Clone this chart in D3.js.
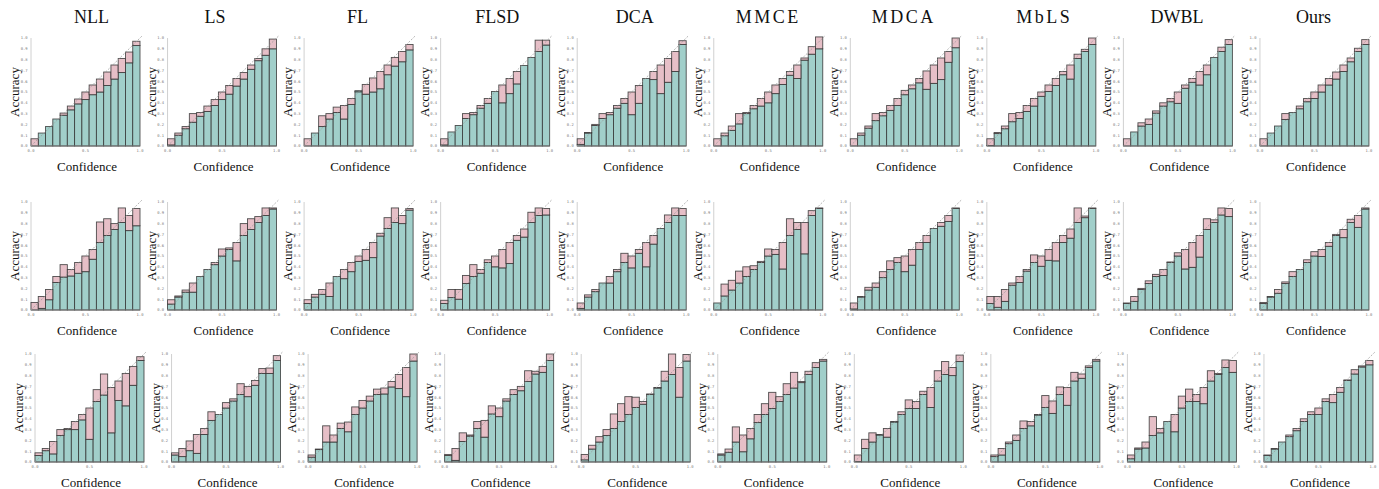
<!DOCTYPE html>
<html><head><meta charset="utf-8">
<script src="https://cdn.jsdelivr.net/npm/d3@7"></script>
<style>body{margin:0;background:#fff}</style>
</head><body><svg id="c" width="1379" height="489"></svg>
<script>
const methods = ["NLL","LS","FL","FLSD","DCA","MMCE","MDCA","MbLS","DWBL","Ours"];
const spacedTitles = ["MMCE","MDCA","MbLS"];
const xTicks = [0, 0.5, 1.0];
const yTicks = [0,0.1,0.2,0.3,0.4,0.5,0.6,0.7,0.8,0.9,1.0];
const nBins = 15;

// Row 1: accuracy (teal) and confidence (pink top) per bin
const accR1 = [
 [0,0.12,0.18,0.25,0.285,0.335,0.39,0.43,0.475,0.50,0.56,0.62,0.68,0.77,0.93],
 [0.01,0.10,0.16,0.22,0.275,0.32,0.375,0.43,0.48,0.555,0.62,0.71,0.79,0.84,0.90],
 [0,0.12,0.18,0.25,0.31,0.25,0.385,0.51,0.48,0.50,0.53,0.66,0.74,0.78,0.89],
 [0.01,0.13,0.19,0.255,0.29,0.35,0.395,0.505,0.40,0.485,0.575,0.745,0.82,0.875,0.935],
 [0.015,0.12,0.19,0.255,0.29,0.35,0.395,0.29,0.395,0.625,0.615,0.485,0.59,0.69,0.94],
 [0,0.095,0.145,0.205,0.30,0.345,0.37,0.40,0.485,0.57,0.655,0.625,0.795,0.85,0.90],
 [0,0.10,0.165,0.235,0.28,0.33,0.375,0.475,0.53,0.585,0.525,0.58,0.615,0.775,0.91],
 [0.005,0.115,0.16,0.225,0.255,0.32,0.37,0.46,0.505,0.56,0.66,0.62,0.81,0.875,0.94],
 [0,0.13,0.185,0.20,0.305,0.37,0.41,0.395,0.535,0.59,0.565,0.66,0.82,0.875,0.94],
 [0,0.12,0.185,0.245,0.31,0.345,0.41,0.44,0.50,0.565,0.62,0.69,0.78,0.875,0.94]
];
const confR1 = [
 [0.067,0.12,0.18,0.25,0.305,0.37,0.435,0.50,0.565,0.62,0.685,0.75,0.81,0.87,0.97],
 [0.067,0.12,0.18,0.30,0.31,0.37,0.43,0.50,0.56,0.625,0.68,0.75,0.81,0.90,0.99],
 [0.067,0.12,0.28,0.30,0.36,0.375,0.44,0.50,0.57,0.63,0.69,0.75,0.82,0.875,0.94],
 [0.067,0.13,0.19,0.30,0.31,0.375,0.44,0.505,0.565,0.625,0.69,0.745,0.82,0.98,0.98],
 [0.067,0.125,0.20,0.30,0.31,0.375,0.44,0.50,0.56,0.625,0.69,0.75,0.81,0.875,0.975],
 [0.067,0.12,0.185,0.30,0.31,0.375,0.44,0.50,0.565,0.625,0.69,0.75,0.815,0.92,1.01],
 [0.067,0.12,0.185,0.30,0.31,0.375,0.44,0.515,0.565,0.625,0.695,0.75,0.815,0.875,1.0],
 [0.067,0.125,0.185,0.30,0.31,0.375,0.44,0.50,0.565,0.625,0.69,0.75,0.85,0.895,1.0],
 [0.067,0.13,0.215,0.25,0.325,0.40,0.44,0.50,0.565,0.625,0.69,0.75,0.82,0.915,0.985],
 [0.067,0.12,0.185,0.30,0.31,0.37,0.44,0.50,0.565,0.625,0.685,0.75,0.815,0.905,0.985]
];
// Row 2
const accR2 = [
 [0,0.015,0.095,0.255,0.305,0.315,0.34,0.355,0.47,0.625,0.69,0.745,0.81,0.735,0.78],
 [0.055,0.12,0.165,0.165,0.31,0.375,0.42,0.50,0.56,0.455,0.69,0.745,0.81,0.875,0.935],
 [0.06,0.12,0.145,0.125,0.31,0.29,0.355,0.45,0.46,0.485,0.685,0.755,0.81,0.80,0.925],
 [0.06,0.115,0.10,0.245,0.31,0.34,0.44,0.40,0.39,0.43,0.645,0.675,0.81,0.875,0.88],
 [0.015,0.12,0.17,0.25,0.25,0.355,0.44,0.39,0.525,0.40,0.61,0.755,0.81,0.875,0.875],
 [0.065,0.13,0.185,0.25,0.31,0.375,0.44,0.50,0.515,0.38,0.69,0.745,0.52,0.875,0.94],
 [0.01,0.12,0.185,0.21,0.30,0.375,0.44,0.355,0.415,0.56,0.625,0.755,0.775,0.82,0.94],
 [0.06,0.025,0.08,0.23,0.255,0.36,0.44,0.405,0.46,0.455,0.625,0.665,0.81,0.855,0.94],
 [0.06,0.08,0.19,0.245,0.31,0.32,0.44,0.50,0.38,0.395,0.49,0.745,0.81,0.88,0.865],
 [0.06,0.12,0.155,0.245,0.31,0.375,0.44,0.50,0.495,0.59,0.69,0.67,0.81,0.765,0.935]
];
const confR2 = [
 [0.07,0.125,0.19,0.31,0.42,0.375,0.44,0.50,0.56,0.815,0.845,0.80,0.945,0.875,0.94],
 [0.095,0.13,0.185,0.25,0.31,0.375,0.44,0.565,0.575,0.625,0.80,0.845,0.865,0.945,0.945],
 [0.095,0.145,0.19,0.25,0.31,0.375,0.44,0.50,0.56,0.625,0.71,0.855,0.945,0.875,0.94],
 [0.09,0.19,0.19,0.32,0.42,0.375,0.465,0.50,0.56,0.625,0.69,0.75,0.905,0.945,0.94],
 [0.065,0.14,0.19,0.25,0.31,0.375,0.525,0.50,0.56,0.625,0.69,0.755,0.88,0.945,0.94],
 [0.065,0.24,0.275,0.36,0.40,0.41,0.45,0.565,0.56,0.625,0.845,0.81,0.81,0.92,0.945],
 [0.065,0.125,0.21,0.25,0.355,0.455,0.485,0.50,0.56,0.625,0.69,0.755,0.81,0.875,0.945],
 [0.125,0.125,0.19,0.25,0.31,0.375,0.51,0.50,0.56,0.625,0.69,0.75,0.945,0.87,0.945],
 [0.065,0.125,0.20,0.27,0.33,0.375,0.445,0.53,0.56,0.625,0.69,0.845,0.835,0.945,0.94],
 [0.07,0.125,0.19,0.26,0.355,0.375,0.465,0.54,0.56,0.625,0.70,0.745,0.84,0.875,0.945]
];
// Row 3
const accR3 = [
 [0.06,0.105,0.075,0.245,0.30,0.30,0.39,0.21,0.56,0.62,0.27,0.57,0.52,0.71,0.94],
 [0.065,0.05,0.105,0.08,0.255,0.385,0.44,0.50,0.565,0.625,0.605,0.71,0.82,0.82,0.94],
 [0.045,0.115,0.185,0.185,0.31,0.28,0.44,0.50,0.565,0.625,0.63,0.695,0.68,0.605,0.935],
 [0.06,0.015,0.19,0.24,0.31,0.23,0.445,0.42,0.565,0.625,0.66,0.745,0.815,0.83,0.94],
 [0.02,0.12,0.185,0.245,0.31,0.375,0.44,0.505,0.535,0.625,0.685,0.75,0.81,0.60,0.935],
 [0.065,0.09,0.185,0.095,0.215,0.365,0.44,0.495,0.56,0.625,0.685,0.735,0.81,0.875,0.935],
 [0.005,0.125,0.185,0.25,0.23,0.37,0.44,0.495,0.495,0.625,0.505,0.75,0.81,0.80,0.93],
 [0.05,0.065,0.17,0.20,0.31,0.335,0.435,0.505,0.45,0.625,0.525,0.75,0.775,0.875,0.935],
 [0.03,0.12,0.13,0.245,0.27,0.375,0.28,0.50,0.56,0.56,0.54,0.75,0.81,0.875,0.83],
 [0.06,0.12,0.185,0.235,0.29,0.375,0.44,0.44,0.56,0.55,0.645,0.755,0.815,0.88,0.90]
];
const confR3 = [
 [0.085,0.125,0.19,0.30,0.31,0.375,0.44,0.50,0.67,0.815,0.69,0.75,0.82,0.885,0.975],
 [0.085,0.125,0.195,0.255,0.31,0.465,0.44,0.55,0.585,0.725,0.70,0.755,0.865,0.87,0.985],
 [0.065,0.12,0.335,0.25,0.36,0.37,0.51,0.57,0.61,0.675,0.685,0.745,0.81,0.875,1.0],
 [0.07,0.125,0.27,0.25,0.375,0.385,0.52,0.50,0.585,0.67,0.70,0.845,0.84,0.885,1.0],
 [0.07,0.155,0.235,0.30,0.445,0.54,0.605,0.60,0.56,0.63,0.69,0.84,1.0,0.875,0.995],
 [0.075,0.12,0.325,0.25,0.31,0.44,0.54,0.645,0.605,0.725,0.83,0.745,0.84,0.92,0.95],
 [0.065,0.21,0.27,0.255,0.31,0.375,0.465,0.575,0.56,0.655,0.69,0.845,0.93,0.875,0.99],
 [0.065,0.125,0.185,0.25,0.38,0.375,0.44,0.615,0.565,0.695,0.69,0.83,0.815,0.89,0.95],
 [0.065,0.13,0.185,0.42,0.31,0.375,0.44,0.61,0.675,0.625,0.69,0.845,0.82,0.945,0.94],
 [0.065,0.125,0.185,0.25,0.31,0.40,0.465,0.50,0.585,0.625,0.69,0.76,0.855,0.89,0.94]
];

const accRows = [accR1, accR2, accR3];
const confRows = [confR1, confR2, confR3];

// layout
const W = 109, H = 108;
const colStep = 136.55, col0 = 31;
const rowTop = [38, 202, 354];
const rowShift = [0, 0, 4];
const titleDx = [7, -6, 0, 3, 4, 1, 0, 4, 0, 0];
const teal = "#a1cfca", pink = "#e5bcc4", edge = "#333";

const svg = d3.select("#c");
const serif = "'Liberation Serif','Times New Roman',serif";

rowTop.forEach((top, r) => {
  methods.forEach((m, c) => {
    const left = col0 + c*colStep + rowShift[r];
    const x = d3.scaleLinear().domain([0,1]).range([left, left+W]);
    const y = d3.scaleLinear().domain([0,1]).range([top+H, top]);
    const g = svg.append("g");
    const acc = accRows[r][c], conf = confRows[r][c];
    const bins = d3.range(nBins).map(i => ({i, a: acc[i], p: conf[i]}));
    const bw = 1/nBins;

    // left spine
    g.append("line").attr("x1", x(0)).attr("x2", x(0)).attr("y1", y(0)).attr("y2", y(1))
      .attr("stroke", "#d0d0d0").attr("stroke-width", 1);

    // accuracy bars
    g.selectAll("rect.acc").data(bins).enter().append("rect").attr("class","acc")
      .attr("x", d => x(d.i*bw)).attr("width", x(bw)-x(0))
      .attr("y", d => y(d.a)).attr("height", d => y(0)-y(d.a))
      .attr("fill", teal).attr("stroke", edge).attr("stroke-width", 0.9).attr("stroke-opacity", 0.85);

    // gap bars
    g.selectAll("rect.gap").data(bins.filter(d => Math.abs(d.p-d.a) > 0.003)).enter().append("rect").attr("class","gap")
      .attr("x", d => x(d.i*bw)).attr("width", x(bw)-x(0))
      .attr("y", d => y(Math.max(d.a,d.p))).attr("height", d => Math.abs(y(d.a)-y(d.p)))
      .attr("fill", d => d.p > d.a ? pink : teal).attr("fill-opacity", 0.95)
      .attr("stroke", edge).attr("stroke-width", 0.9).attr("stroke-opacity", 0.85);

    // bottom axis
    g.append("line").attr("x1", x(0)).attr("x2", x(1)).attr("y1", y(0)).attr("y2", y(0))
      .attr("stroke", "#777").attr("stroke-width", 1);

    // diagonal
    g.append("line").attr("x1", x(0)).attr("y1", y(0)).attr("x2", x(1.02)).attr("y2", y(1.02))
      .attr("stroke", "#9a9a9a").attr("stroke-width", 0.9).attr("stroke-dasharray", "2,1.5").attr("opacity", 0.8);

    // ticks
    g.selectAll("text.yt").data(yTicks).enter().append("text").attr("class","yt")
      .attr("x", x(0)-3.5).attr("y", d => y(d)+1.3).attr("text-anchor","end")
      .attr("font-family","'DejaVu Sans Mono',monospace").attr("font-size", 3.8).attr("fill","#777")
      .text(d => d.toFixed(1));
    g.selectAll("text.xt").data(xTicks).enter().append("text").attr("class","xt")
      .attr("x", d => x(d)).attr("y", y(0)+5.5).attr("text-anchor","middle")
      .attr("font-family","'DejaVu Sans Mono',monospace").attr("font-size", 3.8).attr("fill","#777")
      .text(d => d.toFixed(1));

    // axis labels
    g.append("text").attr("transform", `translate(${x(0)-12},${y(0.5)}) rotate(-90)`)
      .attr("text-anchor","middle").attr("font-family", serif).attr("font-size", 13).attr("fill","#111")
      .text("Accuracy");
    g.append("text").attr("x", x(0.5)+1.5).attr("y", y(0)+25).attr("text-anchor","middle")
      .attr("font-family", serif).attr("font-size", 13).attr("fill","#111")
      .text("Confidence");

    if (r === 0) {
      svg.append("text").attr("x", x(0.5)-1+titleDx[c]).attr("y", 23).attr("text-anchor","middle")
        .attr("font-family", serif).attr("font-size", 18).attr("fill","#111")
        .attr("letter-spacing", spacedTitles.includes(m) ? "2.5px" : null)
        .text(m);
    }
  });
});
</script></body></html>
